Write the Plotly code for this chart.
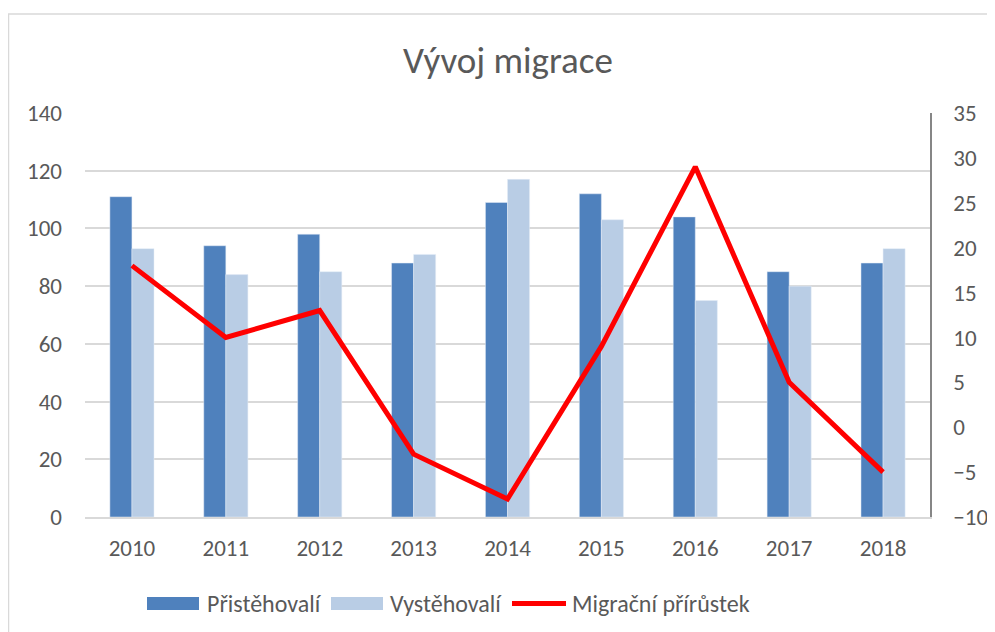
import plotly.graph_objects as go

years = ["2010", "2011", "2012", "2013", "2014", "2015", "2016", "2017", "2018"]
prist = [111, 94, 98, 88, 109, 112, 104, 85, 88]
vyst = [93, 84, 85, 91, 117, 103, 75, 80, 93]
prirustek = [18, 10, 13, -3, -8, 9, 29, 5, -5]

left_ticks = [0, 20, 40, 60, 80, 100, 120, 140]
right_ticks = [-10, -5, 0, 5, 10, 15, 20, 25, 30, 35]

series_names = ["Přistěhovalí", "Vystěhovalí", "Migrační přírůstek"]

FONT = "Carlito, Open Sans, sans-serif"
GREY = "#595959"
C1, C2, C3 = "#4F81BD", "#B9CDE5", "#FF0000"

# page body has an 8px margin -> figure coordinates are shifted by 8px
L, R, T, B = 77, 73, 105, 123
W, H = 995, 632
PW = W - L - R
PH = H - T - B


def px(x):
    return (x - L) / PW


def py(y):
    return (T + PH - y) / PH


fig = go.Figure()
fig.add_trace(go.Bar(x=years, y=prist, name=series_names[0], marker_color=C1, showlegend=False))
fig.add_trace(go.Bar(x=years, y=vyst, name=series_names[1], marker_color=C2, showlegend=False))
fig.add_trace(go.Scatter(x=years, y=prirustek, name=series_names[2], mode="lines",
                         line=dict(color=C3, width=5), yaxis="y2", showlegend=False))

# legend drawn as shapes + text (Excel-style wide keys)
legend_y = 595.5
keys = [
    dict(kind="rect", x0=139, x1=191, color=C1, tx=197),
    dict(kind="rect", x0=323, x1=375, color=C2, tx=380),
    dict(kind="line", x0=504, x1=558, color=C3, tx=562),
]
shapes = [dict(type="rect", xref="paper", yref="paper",
               x0=px(0.5), x1=px(W + 10), y0=py(H + 10), y1=py(6),
               line=dict(color="#d9d9d9", width=1.5), fillcolor="rgba(0,0,0,0)", layer="below")]
annotations = []
for k, name in zip(keys, series_names):
    if k["kind"] == "rect":
        shapes.append(dict(type="rect", xref="paper", yref="paper",
                           x0=px(k["x0"]), x1=px(k["x1"]),
                           y0=py(legend_y + 6.5), y1=py(legend_y - 6.5),
                           line=dict(width=0), fillcolor=k["color"]))
    else:
        shapes.append(dict(type="line", xref="paper", yref="paper",
                           x0=px(k["x0"]), x1=px(k["x1"]),
                           y0=py(legend_y), y1=py(legend_y),
                           line=dict(color=k["color"], width=5)))
    annotations.append(dict(text=name, xref="paper", yref="paper",
                            x=px(k["tx"]), y=py(legend_y), xanchor="left", yanchor="middle",
                            showarrow=False, font=dict(family=FONT, size=24, color=GREY)))

fig.update_layout(
    width=W, height=H,
    margin=dict(l=L, r=R, t=T, b=B),
    paper_bgcolor="white", plot_bgcolor="white",
    font=dict(family=FONT, color=GREY, size=23),
    title=dict(text="Vývoj migrace", x=0.5025, xanchor="center", y=0.918, yanchor="middle",
               font=dict(family=FONT, size=37, color=GREY)),
    showlegend=False,
    barmode="group", bargap=0.53, bargroupgap=0,
    xaxis=dict(showgrid=False, showline=True, linecolor="#d9d9d9", linewidth=1.5,
               ticks="", ticklabelstandoff=10, tickfont=dict(size=23)),
    yaxis=dict(range=[0, 140], tickvals=left_ticks, showgrid=True, gridcolor="#d9d9d9",
               gridwidth=1.5, zeroline=False, showline=False, ticks="",
               ticklabelstandoff=22, tickfont=dict(size=23)),
    yaxis2=dict(range=[-10, 35], tickvals=right_ticks, overlaying="y", side="right",
                showgrid=False, zeroline=False, showline=True, linecolor="#868686",
                linewidth=1.5, ticks="", ticklabelstandoff=17, tickfont=dict(size=23)),
    shapes=shapes,
    annotations=annotations,
)

fig.write_html("out.html")
